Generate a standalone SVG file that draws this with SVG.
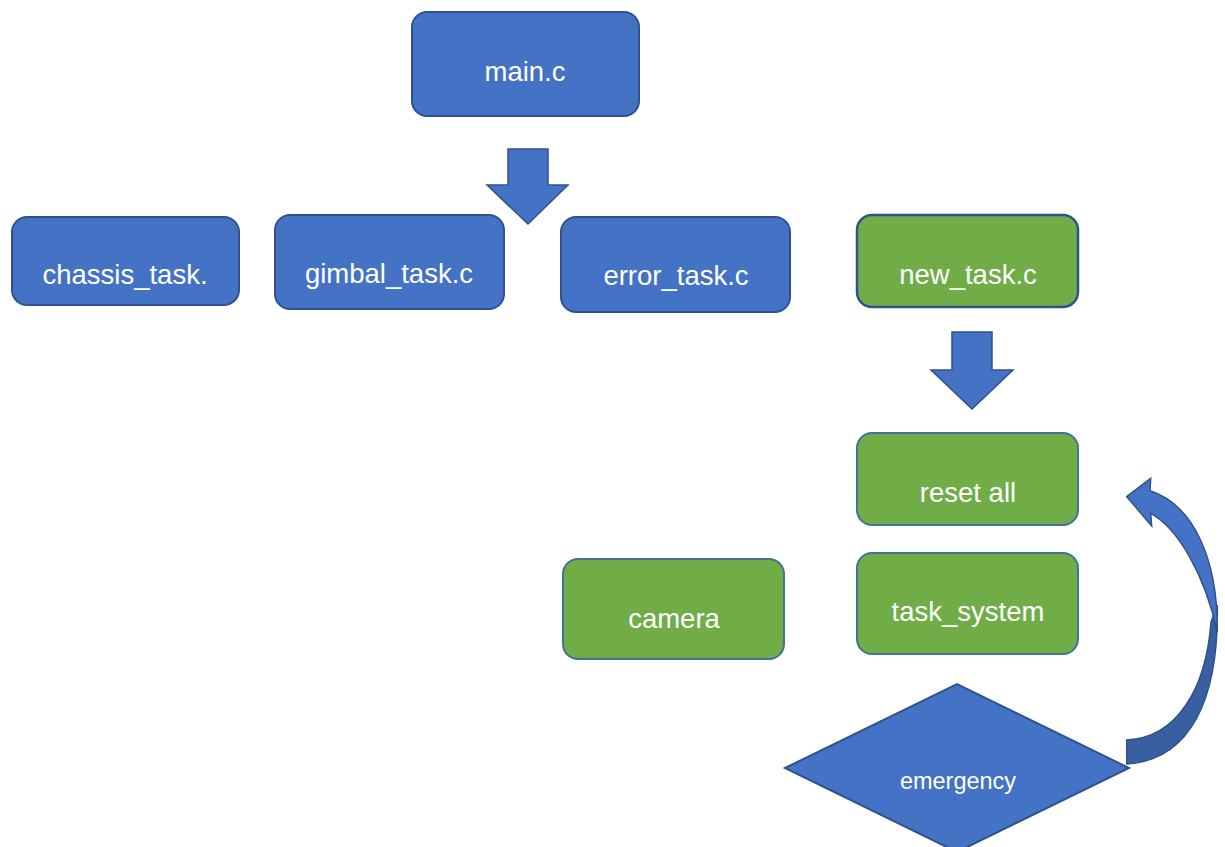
<svg xmlns="http://www.w3.org/2000/svg" width="1225" height="847" viewBox="0 0 1225 847">
<style>
.b{fill:#4472C4;stroke:#2F528F;stroke-width:2}
.g{fill:#70AD47;stroke:#41719C;stroke-width:2}
.g2{fill:#70AD47;stroke:#2F528F;stroke-width:2.5}
.t{font-family:"Liberation Sans",Arial,sans-serif;font-size:27.5px;fill:#FFFFFF;text-anchor:middle}
.ts{font-size:23.5px}
.arr{fill:#4472C4;stroke:#2F528F;stroke-width:1.5}
</style>
<rect width="1225" height="847" fill="#FFFFFF"/>
<g id="connectors">
<polygon class="arr" points="508,149 548,149 548,185 568,185 528,224 487,185 508,185"/>
<polygon class="arr" points="952,332 992,332 992,370 1013,370 972,409 931,370 952,370"/>
<path d="M1217.3,605 C1219,700 1190,760 1126.7,764 L1126.7,740 C1176,738 1206,690 1211,622 Z" fill="#3A5FA0" stroke="#2F528F" stroke-width="1.5"/>
<path class="arr" d="M1126.7,496.7 L1150.7,478.3 L1150,490.7 C1194,505 1218,560 1217.3,632 C1205,575 1178,528 1150.7,513.3 L1151.7,526 Z"/>
</g>
<g id="main">
<rect class="b" x="412" y="12" width="227" height="104" rx="15"/>
<text class="t" x="525" y="81">main.c</text>
</g>
<g id="chassis">
<rect class="b" x="12" y="217" width="227" height="88" rx="15"/>
<text class="t" x="125" y="284">chassis_task.</text>
</g>
<g id="gimbal">
<rect class="b" x="275" y="215" width="229" height="94" rx="15"/>
<text class="t" x="389" y="283">gimbal_task.c</text>
</g>
<g id="error">
<rect class="b" x="561" y="217" width="229" height="95" rx="15"/>
<text class="t" x="676" y="285">error_task.c</text>
</g>
<g id="new_task">
<rect class="g2" x="857" y="215" width="221" height="92" rx="15"/>
<text class="t" x="968" y="284">new_task.c</text>
</g>
<g id="reset_all">
<rect class="g" x="857" y="433" width="221" height="92" rx="15"/>
<text class="t" x="968" y="502">reset all</text>
</g>
<g id="task_system">
<rect class="g" x="857" y="553" width="221" height="101" rx="15"/>
<text class="t" x="968" y="621">task_system</text>
</g>
<g id="camera">
<rect class="g" x="563" y="559" width="221" height="100" rx="15"/>
<text class="t" x="674" y="628">camera</text>
</g>
<g id="emergency">
<polygon class="b" points="785,768 957,684 1129,768 957,852"/>
<text class="t ts" x="958" y="789">emergency</text>
</g>
</svg>
